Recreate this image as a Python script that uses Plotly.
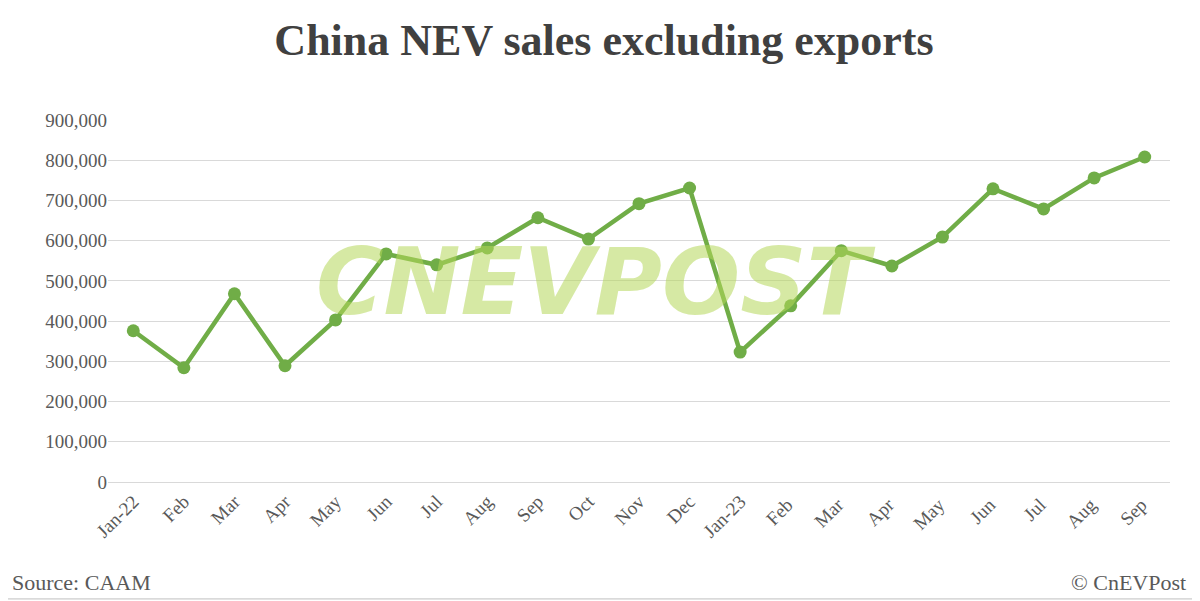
import plotly.graph_objects as go

months = ["Jan-22","Feb","Mar","Apr","May","Jun","Jul","Aug","Sep","Oct","Nov","Dec",
          "Jan-23","Feb ","Mar ","Apr ","May ","Jun ","Jul ","Aug ","Sep "]
sales = [376000,284000,468000,289000,403000,567000,540000,582000,657000,604000,692000,731000,
         323000,438000,575000,537000,609000,729000,679000,756000,808000]
yticks = list(range(0, 900001, 100000))

font = "Liberation Serif, Times New Roman, serif"
fig = go.Figure(go.Scatter(x=months, y=sales, mode="lines+markers",
    line=dict(color="#70AD47", width=4.5), marker=dict(color="#70AD47", size=13)))
fig.update_layout(
    width=1192, height=593, plot_bgcolor="white", paper_bgcolor="white",
    margin=dict(l=100, r=30, t=112, b=119, autoexpand=False),
    title=dict(text="<b>China NEV sales excluding exports</b>", x=0.5, y=0.946, xanchor="center",
               yanchor="middle", font=dict(family=font, size=44, color="#404040")),
    font=dict(family=font, size=19, color="#595959"),
    showlegend=False,
    shapes=[dict(type="rect", xref="paper", yref="paper", x0=-0.12, x1=1.026, y0=-0.323, y1=1.4,
                 line=dict(color="#BFBFBF", width=1), layer="below")],
    annotations=[
        dict(text="<i><b>CNEVPOST</b></i>", xref="paper", yref="paper", x=0.459, y=0.55,
             showarrow=False, font=dict(family="DejaVu Sans", size=92, color="rgba(180,215,90,0.55)")),
        dict(text="Source: CAAM", xref="paper", yref="paper", x=-0.092, y=-0.279, xanchor="left",
             yanchor="middle", showarrow=False, font=dict(family=font, size=22, color="#595959")),
        dict(text="© CnEVPost", xref="paper", yref="paper", x=1.017, y=-0.279, xanchor="right",
             yanchor="middle", showarrow=False, font=dict(family=font, size=22, color="#595959")),
    ],
)
fig.update_xaxes(tickangle=-45, showgrid=False, showline=True, linecolor="#D9D9D9", ticks="",
                 automargin=False, range=[-0.5, len(months) - 0.5])
fig.update_yaxes(range=[0, 900000], tickvals=yticks, tickformat=",", gridcolor="#D9D9D9",
                 zeroline=False, ticks="", automargin=False)
fig.write_html("out.html")
